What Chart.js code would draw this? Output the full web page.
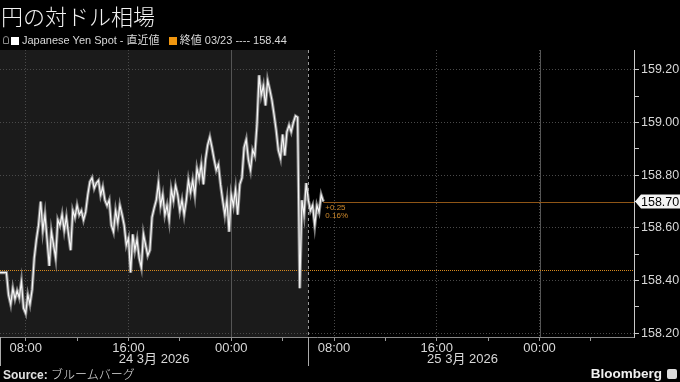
<!DOCTYPE html>
<html><head><meta charset="utf-8">
<script src="https://cdn.jsdelivr.net/npm/chart.js@4.4.1/dist/chart.umd.min.js"></script>
<style>
html,body{margin:0;padding:0;background:#000;width:680px;height:382px;overflow:hidden;}
#wrap{position:relative;width:680px;height:382px;}
canvas{position:absolute;left:0;top:0;}
.t{position:absolute;color:#e8e8e8;white-space:nowrap;font-family:"Liberation Sans","Noto Sans CJK JP",sans-serif;}
#title{left:1px;top:2px;font-size:22px;font-family:"Noto Sans CJK JP",sans-serif;font-weight:300;color:#f2f2f2;line-height:26px;}
#legend{left:3px;top:33px;font-size:11px;color:#d8d8d8;line-height:14px;}
.sq{display:inline-block;width:8px;height:8px;vertical-align:-1px;margin-right:3px;}
#source{left:3px;top:367px;font-size:12px;color:#e0e0e0;line-height:14px;}
#bbg{right:3px;top:366px;font-size:13.5px;font-weight:bold;color:#f0f0f0;line-height:15px;}
.ico{display:inline-block;width:10px;height:10px;background:#ddd;border-radius:2px;vertical-align:-1px;margin-left:5px;position:relative;}
</style></head>
<body><div id="wrap">
<canvas id="c" width="680" height="382"></canvas>
<div class="t" id="title">円の対ドル相場</div>
<div class="t" id="legend"><span style="display:inline-block;width:4px;height:6px;border:1px solid #888;border-radius:3px 3px 0 0;margin-right:2px;vertical-align:0px"></span><span class="sq" style="background:#fff"></span>Japanese Yen Spot - 直近値&nbsp;&nbsp;&nbsp;<span class="sq" style="background:#f0960f"></span>終値 03/23 ---- 158.44</div>
<div class="t" id="source"><b>Source:</b> <span style="font-family:'Noto Sans CJK JP';font-weight:300">ブルームバーグ</span></div>
<div class="t" id="bbg">Bloomberg<span class="ico"></span></div>
</div>
<script>
// ---- data ----
const startHour = 6;          // 06:00, 24 Mar 2026 (hours from 24 Mar 00:00)
const stepMinutes = 10;       // sampling interval of the series
const yenSpot = [
158.43,158.43,158.43,158.43,158.345,158.31,158.37,158.33,158.36,158.335,
158.395,158.295,158.275,158.345,158.31,158.365,158.485,158.555,158.61,158.70,
158.59,158.65,158.555,158.455,158.585,158.535,158.485,158.63,158.61,158.65,
158.59,158.64,158.575,158.515,158.665,158.64,158.685,158.65,158.665,158.63,
158.66,158.725,158.775,158.79,158.75,158.77,158.78,158.725,158.755,158.705,
158.685,158.705,158.61,158.585,158.665,158.62,158.685,158.65,158.61,158.535,
158.56,158.43,158.575,158.515,158.555,158.485,158.45,158.575,158.535,158.495,
158.515,158.64,158.675,158.705,158.77,158.685,158.725,158.65,158.685,158.63,
158.745,158.705,158.76,158.725,158.665,158.705,158.65,158.705,158.78,158.735,
158.78,158.725,158.825,158.79,158.84,158.765,158.86,158.915,158.945,158.905,
158.86,158.82,158.84,158.765,158.705,158.65,158.705,158.585,158.725,158.685,
158.745,158.65,158.765,158.79,158.905,158.935,158.86,158.82,158.895,158.875,
158.99,159.18,159.105,159.14,159.065,159.16,159.125,159.085,159.03,158.97,
158.895,158.865,158.955,158.875,158.965,158.99,158.965,159.00,159.025,159.02,
158.37,158.705,158.65,158.77,158.705,158.665,158.685,158.61,158.685,158.66,
158.725,158.70
];
const prevClose = 158.44;
const lastPrice = 158.70;
const changeLabels = ['+0.25', '0.16%'];
const sessionBoundary = 30;   // 06:00, 25 Mar
const xMin = 6, xMax = 55.35;
const yMin = 158.185, yMax = 159.276;
const xTickHours = [8,12,16,20,24,28,32,36,40,44,48,52];
const midnightHours = [24,48];
const dayLabels = [{hour:18, text:'24 3月 2026'}, {hour:42, text:'25 3月 2026'}];
const dayStarts = [6, 30];

const points = yenSpot.map((v,i)=>({x:startHour + i*stepMinutes/60, y:v}));

function fmtHour(h){ const hh = ((h%24)+24)%24; return String(hh).padStart(2,'0')+':00'; }
const isMajorY = v => Math.round(v*10)%2===0;

const deco = {
  id:'deco',
  beforeDraw(chart){
    const {ctx, chartArea:a, scales:{x}} = chart;
    ctx.save();
    ctx.fillStyle='#000'; ctx.fillRect(0,0,chart.width,chart.height);
    const xs = x.getPixelForValue(sessionBoundary);
    ctx.fillStyle='#1b1b1b'; ctx.fillRect(a.left,a.top,xs-a.left,a.bottom-a.top);
    ctx.restore();
  },
  beforeDatasetsDraw(chart){
    const {ctx, chartArea:a, scales:{x,y}} = chart;
    ctx.save();
    ctx.lineWidth=1;
    ctx.strokeStyle='#555';
    midnightHours.forEach(h=>{const px=Math.round(x.getPixelForValue(h))+0.5;ctx.beginPath();ctx.moveTo(px,a.top);ctx.lineTo(px,a.bottom);ctx.stroke();});
    const xs=Math.round(x.getPixelForValue(sessionBoundary))+0.5;
    ctx.strokeStyle='#9a9a9a'; ctx.setLineDash([3,3]);
    ctx.beginPath();ctx.moveTo(xs,a.top);ctx.lineTo(xs,a.bottom);ctx.stroke();
    const yp=Math.round(y.getPixelForValue(prevClose))+0.5;
    ctx.strokeStyle='#d88a1e'; ctx.setLineDash([1,1]);
    ctx.beginPath();ctx.moveTo(a.left,yp);ctx.lineTo(a.right,yp);ctx.stroke();
    const yl=Math.round(y.getPixelForValue(lastPrice))+0.5;
    const xl=x.getPixelForValue(points[points.length-1].x);
    ctx.setLineDash([]); ctx.strokeStyle='#8f5516';
    ctx.beginPath();ctx.moveTo(xl,yl);ctx.lineTo(a.right,yl);ctx.stroke();
    ctx.restore();
  },
  afterDraw(chart){
    const {ctx, chartArea:a, scales:{x,y}} = chart;
    ctx.save();
    ctx.strokeStyle='#aaa'; ctx.lineWidth=1;
    dayStarts.forEach(h=>{const px=Math.round(x.getPixelForValue(h))+0.5;ctx.beginPath();ctx.moveTo(px,a.bottom);ctx.lineTo(px,366);ctx.stroke();});
    ctx.fillStyle='#d8d8d8'; ctx.font='13px "Liberation Sans","Noto Sans CJK JP",sans-serif';
    ctx.textAlign='center'; ctx.textBaseline='middle';
    dayLabels.forEach(d=>ctx.fillText(d.text, x.getPixelForValue(d.hour), 359));
    const py=y.getPixelForValue(lastPrice);
    const ax=a.right+1;
    ctx.fillStyle='#f4f4f4';
    ctx.beginPath();ctx.moveTo(ax,py);ctx.lineTo(ax+6,py-7);ctx.lineTo(680,py-7);ctx.lineTo(680,py+7);ctx.lineTo(ax+6,py+7);ctx.closePath();ctx.fill();
    ctx.fillStyle='#000'; ctx.textAlign='left'; ctx.font='12.5px "Liberation Sans",sans-serif';
    ctx.fillText(lastPrice.toFixed(2), ax+6, py+1);
    const lx=x.getPixelForValue(points[points.length-1].x)+2;
    ctx.fillStyle='#cf8a2c'; ctx.font='8px "Liberation Sans",sans-serif';
    ctx.fillText(changeLabels[0], lx, py+6);
    ctx.fillText(changeLabels[1], lx, py+14);
    ctx.restore();
  }
};

new Chart(document.getElementById('c'), {
  type:'line',
  data:{datasets:[
    {data:points, borderColor:'rgba(150,150,150,0.85)', borderWidth:3.2, pointRadius:0, tension:0, order:2},
    {data:points, borderColor:'#f6f6f6', borderWidth:1.2, pointRadius:0, tension:0, order:1}
  ]},
  options:{
    responsive:false, animation:false, events:[],
    layout:{padding:{top:50,left:0,right:0,bottom:0}},
    plugins:{legend:{display:false}, tooltip:{enabled:false}},
    scales:{
      x:{type:'linear', min:xMin, max:xMax,
        afterFit(s){ s.height=45; },
        afterBuildTicks(s){ s.ticks = xTickHours.map(v=>({value:v})); },
        ticks:{color:'#d8d8d8', font:{size:13, family:'Liberation Sans'}, padding:0, maxRotation:0, autoSkip:false,
          callback(v){ return v%8===0 ? fmtHour(v) : ''; }},
        grid:{color(c){ return c.tick && c.tick.value%8===0 ? '#4a4a4a' : 'rgba(0,0,0,0)'; }, tickColor:'#999', tickLength:4},
        border:{color:'#8a8a8a', dash:[1,2]}
      },
      y:{position:'right', min:yMin, max:yMax,
        afterFit(s){ s.width=46; },
        ticks:{stepSize:0.1, includeBounds:false, color:'#d8d8d8', font:{size:12.5, family:'Liberation Sans'}, padding:2,
          callback(v){ return isMajorY(v) ? v.toFixed(2) : ''; }},
        grid:{color(c){ return c.tick && isMajorY(c.tick.value) ? '#4a4a4a' : 'rgba(0,0,0,0)'; }, tickColor:'#c8c8c8', tickLength:5},
        border:{color:'#c8c8c8', dash:[1,2]}
      }
    }
  },
  plugins:[deco]
});
</script>
</body></html>
